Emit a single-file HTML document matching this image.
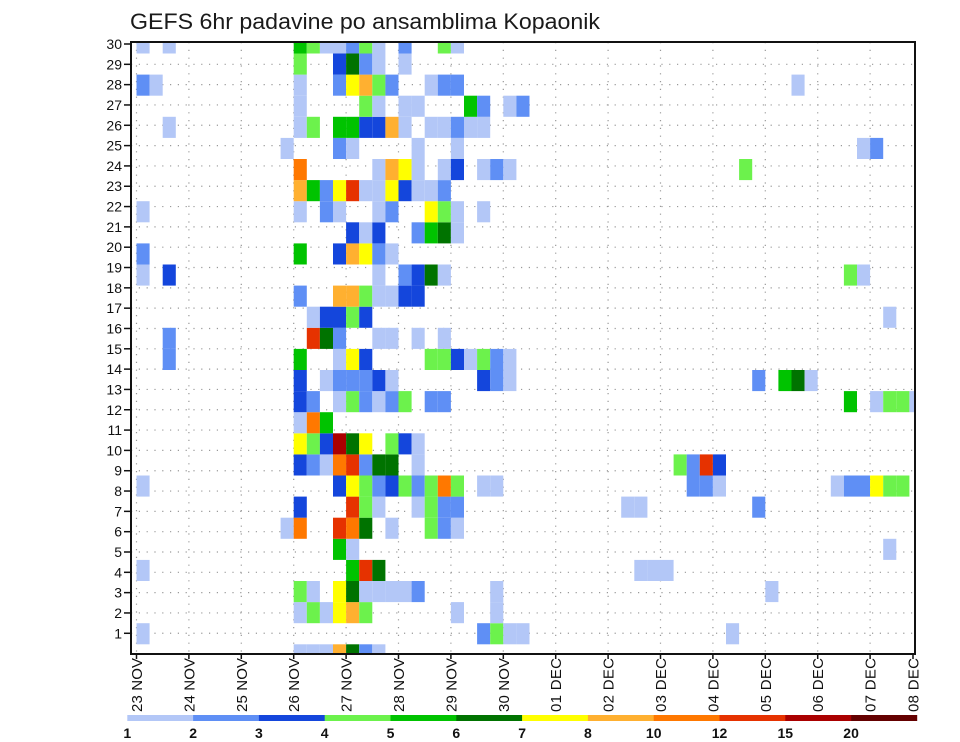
<!DOCTYPE html>
<html><head><meta charset="utf-8"><style>
html,body{margin:0;padding:0;background:#fff;}
svg{display:block;font-family:"Liberation Sans",sans-serif;}
</style></head><body>
<svg id="chart" width="960" height="742" viewBox="0 0 960 742" xmlns="http://www.w3.org/2000/svg">
<text x="130" y="29" font-size="22" fill="#1a1a1a" textLength="470" lengthAdjust="spacingAndGlyphs">GEFS 6hr padavine po ansamblima Kopaonik</text>
<g id="grid"></g>
<g id="cells"></g>
<rect x="131" y="42" width="784" height="612" fill="none" stroke="#111" stroke-width="2"/>
<g id="yaxis"></g>
<g id="xaxis"></g>
<g id="legend"></g>
</svg>
<script>
// ---- data ----
const levelLabels = ["1","2","3","4","5","6","7","8","10","12","15","20"];
const levelColors = ["#b3c7f7","#5f8ff5","#1446dc","#6cf24c","#00c300","#007300","#ffff00","#ffb030","#ff7800","#e63200","#aa0000","#640000"];
const levelCodes = "abcdefghijkl";
const dateLabels = ["23 NOV","24 NOV","25 NOV","26 NOV","27 NOV","28 NOV","29 NOV","30 NOV","01 DEC","02 DEC","03 DEC","04 DEC","05 DEC","06 DEC","07 DEC","08 DEC"];
const yTickLabels = [1,2,3,4,5,6,7,8,9,10,11,12,13,14,15,16,17,18,19,20,21,22,23,24,25,26,27,28,29,30];
// member rows (index = member slot from bottom); entries "step+levelCode"
const memberRows = [
"12a 13a 14a 15h 16f 17b 18a",
"0a 26b 27d 28a 29a 45a",
"12a 13d 14a 15g 16h 17d 24a 27a",
"12d 13a 15g 16f 17a 18a 19a 20a 21b 27a 48a",
"0a 16e 17j 18f 38a 39a 40a",
"15e 16a 57a",
"11a 12i 15j 16i 17f 19a 22d 23b 24a",
"12c 16j 17d 18a 21a 22d 23b 24b 37a 38a 47b",
"0a 15c 16g 17d 18b 19c 20d 21b 22d 23i 24d 26a 27a 42b 43b 44a 53a 54b 55b 56g 57d 58d",
"12c 13b 14a 15i 16j 17b 18f 19f 21a 41d 42b 43j 44c",
"12g 13d 14c 15k 16f 17g 19d 20c 21a",
"12a 13i 14e",
"12c 13b 15a 16d 17b 18a 19b 20d 22b 23b 54e 56a 57d 58d 59a",
"12c 14a 15b 16b 17b 18c 19a 26c 27b 28a 47b 49e 50f 51a",
"2b 12e 15a 16g 17c 22d 23d 24c 25a 26d 27b 28a",
"2b 13j 14f 15b 18a 19a 21a 23a",
"13a 14c 15c 16d 17c 57a",
"12b 15h 16h 17d 18a 19a 20c 21c",
"0a 2c 18a 20b 21c 22f 23a 54d 55a",
"0b 12e 15c 16h 17g 18b 19a",
"16c 17a 18c 21b 22e 23f 24a",
"0a 12a 14b 15a 18a 19b 22g 23d 24a 26a",
"12h 13e 14b 15g 16j 17a 18a 19g 20c 21a 22a 23b",
"12i 18a 19h 20g 21a 23a 24c 26a 27b 28a 46d",
"11a 15b 16a 21a 24a 55a 56b",
"2a 12a 13d 15e 16e 17c 18c 19h 20a 22a 23a 24b 25a 26a",
"12a 17d 18a 20a 21a 25e 26b 28a 29b",
"0b 1a 12a 15b 16g 17h 18d 19b 22a 23b 24b 50a",
"12d 15c 16f 17b 18a 20a",
"0a 2a 12e 13d 14a 15a 16b 17d 18a 20b 23d 24a"
];
// ---- scales ----
const NS="http://www.w3.org/2000/svg";
const PX0=131, PX1=915, PY0=42, PY1=654;
function xStep(k){ return 136.5 + 13.1*k; }
function xDate(d){ return 136.5 + 52.4*d; }
function yMember(m){ return 644.3 - m*21.1; }     // top of a member cell
function yTick(r){ return 653.6 - 20.32*r; }
function mk(tag, attrs, parent){ const e=document.createElementNS(NS,tag); for(const k in attrs) e.setAttribute(k,attrs[k]); parent.appendChild(e); return e; }

// grid
const grid=document.getElementById('grid');
yTickLabels.forEach(r=>{ if(r>=30) return;
  const l=mk('line',{x1:PX0,x2:PX1,y1:yTick(r),y2:yTick(r),stroke:'#999','stroke-width':1.2,'stroke-dasharray':'1.2 6.6'},grid);
  
  
});
dateLabels.forEach((t,d)=>{ const x=xDate(d); if(x>PX1-2) return;
  const l=mk('line',{x1:x,x2:x,y1:PY0,y2:PY1,stroke:'#999','stroke-width':1.2,'stroke-dasharray':'1.2 6.6'},grid);
  
  
});

// cells
const cg=document.getElementById('cells');
memberRows.forEach((row,m)=>{
  row.trim().split(/\s+/).forEach(tok=>{
    const k=parseInt(tok,10), code=tok.replace(/[0-9]/g,'');
    const lvl=levelCodes.indexOf(code);
    let x0=xStep(k), x1=xStep(k+1), y0=yMember(m), y1=y0+21.1;
    x0=Math.max(x0,PX0); x1=Math.min(x1,PX1); y0=Math.max(y0,PY0); y1=Math.min(y1,PY1);
    const r=mk('rect',{x:x0,y:y0,width:x1-x0,height:y1-y0,fill:levelColors[lvl]},cg);
    
    
  });
});

// y axis
const ya=document.getElementById('yaxis');
yTickLabels.forEach(r=>{
  const y=yTick(r);
  const tk=mk('line',{x1:124,x2:131,y1:y,y2:y,stroke:'#111','stroke-width':1.5},ya);
  
  
  const t=mk('text',{x:122,y:y+5,'font-size':14,'text-anchor':'end',fill:'#111'},ya);
  t.textContent=String(r);
  
  
});

// x axis
const xa=document.getElementById('xaxis');
dateLabels.forEach((lab,d)=>{
  let x=xDate(d); if(x>PX1) x=913;
  const tk=mk('line',{x1:x,x2:x,y1:PY1,y2:PY1+5,stroke:'#111','stroke-width':1.5},xa);
  
  
  const t=mk('text',{x:0,y:0,'font-size':15,'text-anchor':'end',fill:'#111',transform:`translate(${x+5.5},658) rotate(-90)`,textLength:54,lengthAdjust:'spacing'},xa);
  t.textContent=lab;
  
  
});

// legend
const lg=document.getElementById('legend');
const LX0=127.3, LW=65.8;
levelColors.forEach((c,i)=>{
  const r=mk('rect',{x:LX0+i*LW,y:715,width:LW+0.3,height:6,fill:c},lg);
  
  
});
levelLabels.forEach((t,i)=>{
  const e=mk('text',{x:LX0+i*LW,y:738,'font-size':14,'font-weight':'bold','text-anchor':'middle',fill:'#111'},lg);
  e.textContent=t;
  
  
});
</script>
</body></html>
